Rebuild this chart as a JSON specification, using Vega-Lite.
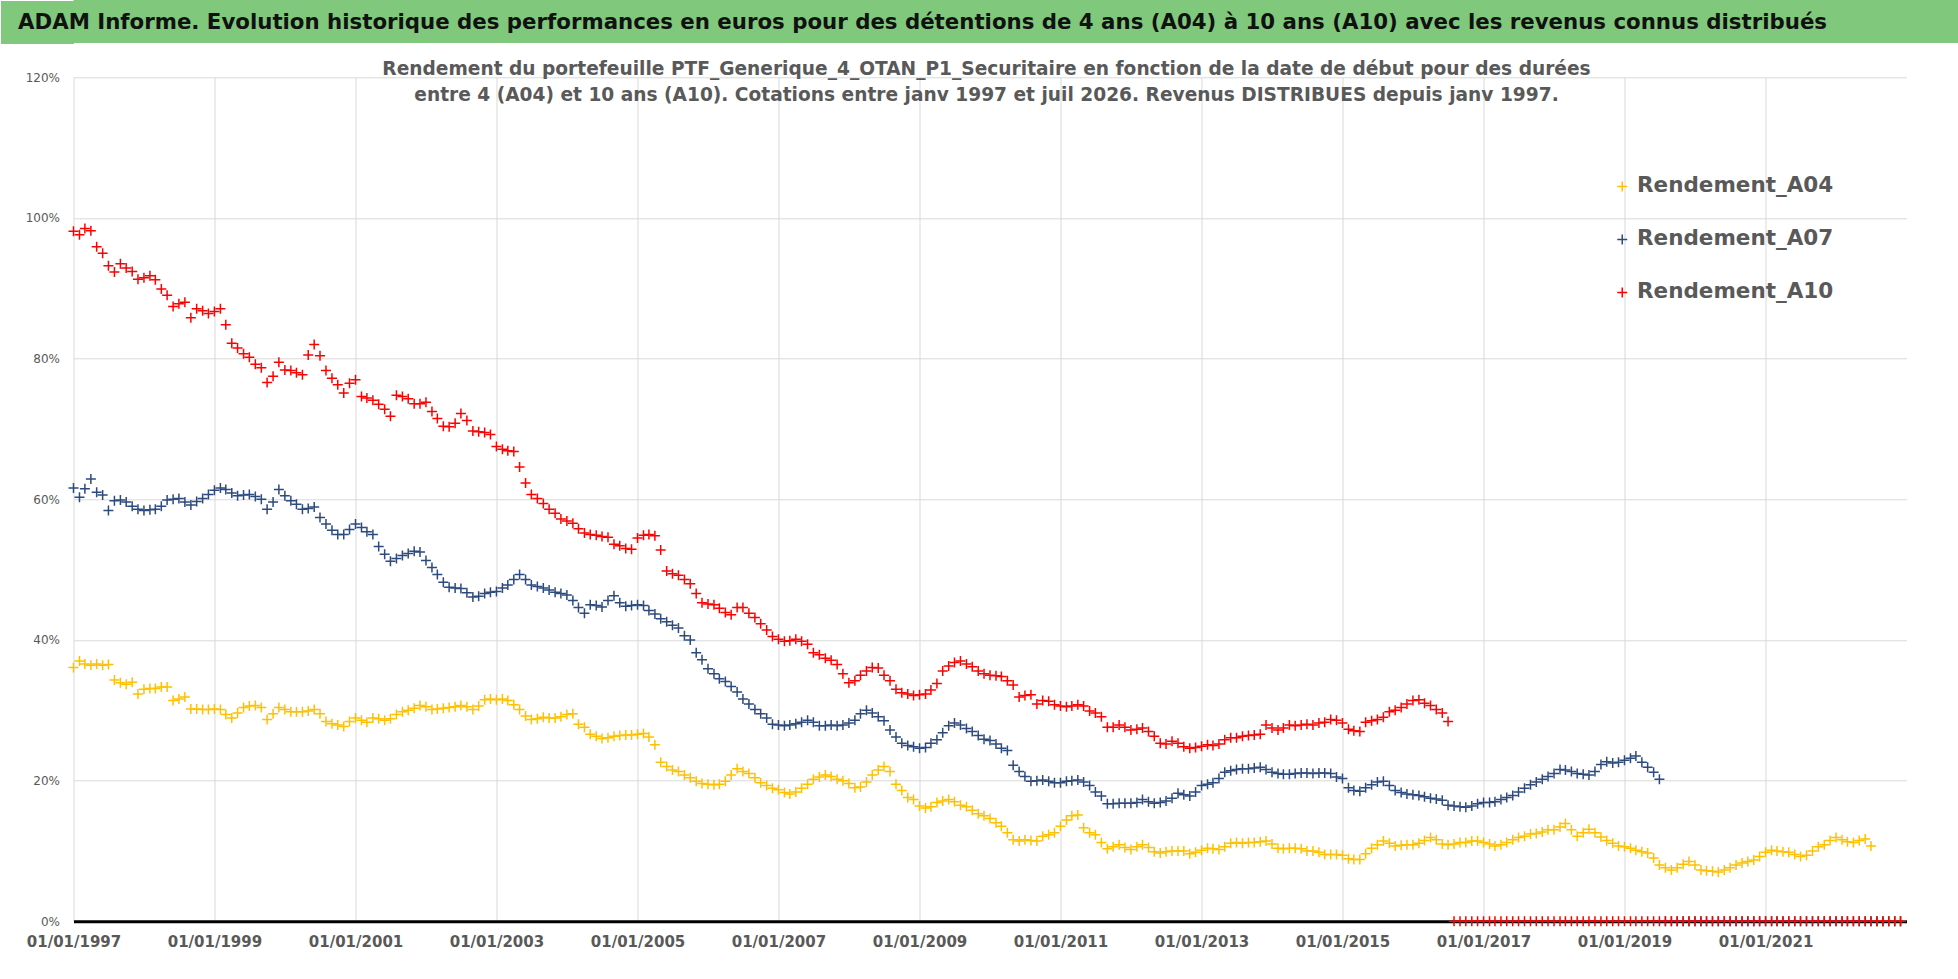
{
  "$schema": "https://vega.github.io/schema/vega-lite/v6.json",
  "description": "ADAM Informe - rendements A04, A07, A10 selon la date de debut",
  "padding": {"left": -21.5, "top": 0, "right": 0, "bottom": 0},
  "background": "white",
  "spacing": 15.3,
  "config": {"view": {"stroke": null}},
  "datasets": {
    "A04": [
      {"d":"1997-01","v":36.1},{"d":"1997-02","v":37.0},{"d":"1997-03","v":36.6},{"d":"1997-04","v":36.4},{"d":"1997-05","v":36.6},{"d":"1997-06","v":36.4},{"d":"1997-07","v":36.5},{"d":"1997-08","v":34.3},{"d":"1997-09","v":33.9},{"d":"1997-10","v":33.7},{"d":"1997-11","v":34.0},{"d":"1997-12","v":32.3},
      {"d":"1998-01","v":33.0},{"d":"1998-02","v":33.1},{"d":"1998-03","v":33.1},{"d":"1998-04","v":33.3},{"d":"1998-05","v":33.3},{"d":"1998-06","v":31.4},{"d":"1998-07","v":31.6},{"d":"1998-08","v":31.9},{"d":"1998-09","v":30.2},{"d":"1998-10","v":30.2},{"d":"1998-11","v":30.1},{"d":"1998-12","v":30.1},
      {"d":"1999-01","v":30.2},{"d":"1999-02","v":30.1},{"d":"1999-03","v":29.4},{"d":"1999-04","v":28.9},{"d":"1999-05","v":29.6},{"d":"1999-06","v":30.4},{"d":"1999-07","v":30.6},{"d":"1999-08","v":30.7},{"d":"1999-09","v":30.4},{"d":"1999-10","v":28.7},{"d":"1999-11","v":29.5},{"d":"1999-12","v":30.4},
      {"d":"2000-01","v":30.1},{"d":"2000-02","v":29.8},{"d":"2000-03","v":29.8},{"d":"2000-04","v":29.8},{"d":"2000-05","v":29.9},{"d":"2000-06","v":30.1},{"d":"2000-07","v":29.5},{"d":"2000-08","v":28.4},{"d":"2000-09","v":28.1},{"d":"2000-10","v":27.9},{"d":"2000-11","v":27.7},{"d":"2000-12","v":28.4},
      {"d":"2001-01","v":28.9},{"d":"2001-02","v":28.6},{"d":"2001-03","v":28.3},{"d":"2001-04","v":28.9},{"d":"2001-05","v":28.8},{"d":"2001-06","v":28.6},{"d":"2001-07","v":28.8},{"d":"2001-08","v":29.4},{"d":"2001-09","v":29.8},{"d":"2001-10","v":30.0},{"d":"2001-11","v":30.3},{"d":"2001-12","v":30.7},
      {"d":"2002-01","v":30.5},{"d":"2002-02","v":30.1},{"d":"2002-03","v":30.2},{"d":"2002-04","v":30.3},{"d":"2002-05","v":30.4},{"d":"2002-06","v":30.5},{"d":"2002-07","v":30.7},{"d":"2002-08","v":30.5},{"d":"2002-09","v":30.1},{"d":"2002-10","v":30.6},{"d":"2002-11","v":31.5},{"d":"2002-12","v":31.6},
      {"d":"2003-01","v":31.5},{"d":"2003-02","v":31.6},{"d":"2003-03","v":31.4},{"d":"2003-04","v":30.8},{"d":"2003-05","v":30.1},{"d":"2003-06","v":29.2},{"d":"2003-07","v":28.7},{"d":"2003-08","v":28.8},{"d":"2003-09","v":29.0},{"d":"2003-10","v":28.9},{"d":"2003-11","v":28.9},{"d":"2003-12","v":29.1},
      {"d":"2004-01","v":29.4},{"d":"2004-02","v":29.5},{"d":"2004-03","v":28.0},{"d":"2004-04","v":27.6},{"d":"2004-05","v":26.6},{"d":"2004-06","v":26.3},{"d":"2004-07","v":26.0},{"d":"2004-08","v":26.1},{"d":"2004-09","v":26.3},{"d":"2004-10","v":26.4},{"d":"2004-11","v":26.5},{"d":"2004-12","v":26.5},
      {"d":"2005-01","v":26.6},{"d":"2005-02","v":26.7},{"d":"2005-03","v":26.2},{"d":"2005-04","v":25.1},{"d":"2005-05","v":22.6},{"d":"2005-06","v":22.0},{"d":"2005-07","v":21.5},{"d":"2005-08","v":21.3},{"d":"2005-09","v":20.8},{"d":"2005-10","v":20.4},{"d":"2005-11","v":19.9},{"d":"2005-12","v":19.6},
      {"d":"2006-01","v":19.5},{"d":"2006-02","v":19.4},{"d":"2006-03","v":19.5},{"d":"2006-04","v":19.9},{"d":"2006-05","v":20.8},{"d":"2006-06","v":21.7},{"d":"2006-07","v":21.3},{"d":"2006-08","v":21.0},{"d":"2006-09","v":20.4},{"d":"2006-10","v":19.7},{"d":"2006-11","v":19.3},{"d":"2006-12","v":18.9},
      {"d":"2007-01","v":18.7},{"d":"2007-02","v":18.3},{"d":"2007-03","v":18.1},{"d":"2007-04","v":18.4},{"d":"2007-05","v":18.9},{"d":"2007-06","v":19.5},{"d":"2007-07","v":20.2},{"d":"2007-08","v":20.5},{"d":"2007-09","v":20.8},{"d":"2007-10","v":20.6},{"d":"2007-11","v":20.2},{"d":"2007-12","v":20.0},
      {"d":"2008-01","v":19.6},{"d":"2008-02","v":19.0},{"d":"2008-03","v":19.1},{"d":"2008-04","v":19.8},{"d":"2008-05","v":20.8},{"d":"2008-06","v":21.5},{"d":"2008-07","v":22.0},{"d":"2008-08","v":21.3},{"d":"2008-09","v":19.5},{"d":"2008-10","v":18.6},{"d":"2008-11","v":17.6},{"d":"2008-12","v":17.3},
      {"d":"2009-01","v":16.4},{"d":"2009-02","v":16.1},{"d":"2009-03","v":16.3},{"d":"2009-04","v":16.9},{"d":"2009-05","v":17.1},{"d":"2009-06","v":17.3},{"d":"2009-07","v":17.0},{"d":"2009-08","v":16.5},{"d":"2009-09","v":16.3},{"d":"2009-10","v":15.8},{"d":"2009-11","v":15.3},{"d":"2009-12","v":15.0},
      {"d":"2010-01","v":14.6},{"d":"2010-02","v":14.0},{"d":"2010-03","v":13.5},{"d":"2010-04","v":12.6},{"d":"2010-05","v":11.6},{"d":"2010-06","v":11.4},{"d":"2010-07","v":11.6},{"d":"2010-08","v":11.5},{"d":"2010-09","v":11.4},{"d":"2010-10","v":12.1},{"d":"2010-11","v":12.3},{"d":"2010-12","v":12.6},
      {"d":"2011-01","v":13.5},{"d":"2011-02","v":14.4},{"d":"2011-03","v":15.0},{"d":"2011-04","v":15.1},{"d":"2011-05","v":13.3},{"d":"2011-06","v":12.6},{"d":"2011-07","v":12.3},{"d":"2011-08","v":11.2},{"d":"2011-09","v":10.3},{"d":"2011-10","v":10.6},{"d":"2011-11","v":10.9},{"d":"2011-12","v":10.5},
      {"d":"2012-01","v":10.2},{"d":"2012-02","v":10.6},{"d":"2012-03","v":10.9},{"d":"2012-04","v":10.5},{"d":"2012-05","v":9.9},{"d":"2012-06","v":9.7},{"d":"2012-07","v":9.9},{"d":"2012-08","v":10.0},{"d":"2012-09","v":10.0},{"d":"2012-10","v":10.0},{"d":"2012-11","v":9.6},{"d":"2012-12","v":9.8},
      {"d":"2013-01","v":10.1},{"d":"2013-02","v":10.4},{"d":"2013-03","v":10.3},{"d":"2013-04","v":10.2},{"d":"2013-05","v":10.6},{"d":"2013-06","v":11.1},{"d":"2013-07","v":11.2},{"d":"2013-08","v":11.1},{"d":"2013-09","v":11.2},{"d":"2013-10","v":11.2},{"d":"2013-11","v":11.3},{"d":"2013-12","v":11.4},
      {"d":"2014-01","v":11.0},{"d":"2014-02","v":10.4},{"d":"2014-03","v":10.3},{"d":"2014-04","v":10.4},{"d":"2014-05","v":10.4},{"d":"2014-06","v":10.3},{"d":"2014-07","v":10.0},{"d":"2014-08","v":10.0},{"d":"2014-09","v":9.8},{"d":"2014-10","v":9.5},{"d":"2014-11","v":9.5},{"d":"2014-12","v":9.5},
      {"d":"2015-01","v":9.4},{"d":"2015-02","v":8.9},{"d":"2015-03","v":8.8},{"d":"2015-04","v":8.8},{"d":"2015-05","v":9.6},{"d":"2015-06","v":10.4},{"d":"2015-07","v":10.9},{"d":"2015-08","v":11.4},{"d":"2015-09","v":11.1},{"d":"2015-10","v":10.7},{"d":"2015-11","v":10.8},{"d":"2015-12","v":10.9},
      {"d":"2016-01","v":10.9},{"d":"2016-02","v":11.1},{"d":"2016-03","v":11.5},{"d":"2016-04","v":11.9},{"d":"2016-05","v":11.6},{"d":"2016-06","v":11.0},{"d":"2016-07","v":10.9},{"d":"2016-08","v":11.0},{"d":"2016-09","v":11.2},{"d":"2016-10","v":11.2},{"d":"2016-11","v":11.4},{"d":"2016-12","v":11.4},
      {"d":"2017-01","v":11.2},{"d":"2017-02","v":11.0},{"d":"2017-03","v":10.7},{"d":"2017-04","v":10.9},{"d":"2017-05","v":11.2},{"d":"2017-06","v":11.6},{"d":"2017-07","v":11.9},{"d":"2017-08","v":12.1},{"d":"2017-09","v":12.4},{"d":"2017-10","v":12.5},{"d":"2017-11","v":12.7},{"d":"2017-12","v":13.0},
      {"d":"2018-01","v":13.0},{"d":"2018-02","v":13.4},{"d":"2018-03","v":13.9},{"d":"2018-04","v":13.0},{"d":"2018-05","v":12.1},{"d":"2018-06","v":12.6},{"d":"2018-07","v":13.1},{"d":"2018-08","v":12.6},{"d":"2018-09","v":12.0},{"d":"2018-10","v":11.5},{"d":"2018-11","v":11.1},{"d":"2018-12","v":10.7},
      {"d":"2019-01","v":10.6},{"d":"2019-02","v":10.4},{"d":"2019-03","v":10.1},{"d":"2019-04","v":9.9},{"d":"2019-05","v":9.7},{"d":"2019-06","v":9.0},{"d":"2019-07","v":8.0},{"d":"2019-08","v":7.6},{"d":"2019-09","v":7.3},{"d":"2019-10","v":7.6},{"d":"2019-11","v":8.1},{"d":"2019-12","v":8.5},
      {"d":"2020-01","v":8.0},{"d":"2020-02","v":7.3},{"d":"2020-03","v":7.2},{"d":"2020-04","v":7.1},{"d":"2020-05","v":7.0},{"d":"2020-06","v":7.3},{"d":"2020-07","v":7.6},{"d":"2020-08","v":8.0},{"d":"2020-09","v":8.3},{"d":"2020-10","v":8.5},{"d":"2020-11","v":8.7},{"d":"2020-12","v":9.2},
      {"d":"2021-01","v":9.8},{"d":"2021-02","v":10.1},{"d":"2021-03","v":10.0},{"d":"2021-04","v":9.9},{"d":"2021-05","v":9.8},{"d":"2021-06","v":9.5},{"d":"2021-07","v":9.2},{"d":"2021-08","v":9.4},{"d":"2021-09","v":10.0},{"d":"2021-10","v":10.6},{"d":"2021-11","v":10.9},{"d":"2021-12","v":11.5},
      {"d":"2022-01","v":11.9},{"d":"2022-02","v":11.6},{"d":"2022-03","v":11.3},{"d":"2022-04","v":11.2},{"d":"2022-05","v":11.5},{"d":"2022-06","v":11.7},{"d":"2022-07","v":10.7},
      {"d":"2022-08","v":0},{"d":"2022-09","v":0},{"d":"2022-10","v":0},{"d":"2022-11","v":0},{"d":"2022-12","v":0}
    ],
    "A07": [
      {"d":"1997-01","v":61.6},{"d":"1997-02","v":60.3},{"d":"1997-03","v":61.5},{"d":"1997-04","v":62.9},{"d":"1997-05","v":61.0},{"d":"1997-06","v":60.6},{"d":"1997-07","v":58.4},{"d":"1997-08","v":59.8},{"d":"1997-09","v":59.9},{"d":"1997-10","v":59.6},{"d":"1997-11","v":59.0},{"d":"1997-12","v":58.6},
      {"d":"1998-01","v":58.4},{"d":"1998-02","v":58.5},{"d":"1998-03","v":58.6},{"d":"1998-04","v":59.0},{"d":"1998-05","v":59.9},{"d":"1998-06","v":60.0},{"d":"1998-07","v":60.1},{"d":"1998-08","v":59.6},{"d":"1998-09","v":59.2},{"d":"1998-10","v":59.7},{"d":"1998-11","v":60.1},{"d":"1998-12","v":60.7},
      {"d":"1999-01","v":61.3},{"d":"1999-02","v":61.6},{"d":"1999-03","v":61.4},{"d":"1999-04","v":60.9},{"d":"1999-05","v":60.5},{"d":"1999-06","v":60.6},{"d":"1999-07","v":60.7},{"d":"1999-08","v":60.4},{"d":"1999-09","v":60.0},{"d":"1999-10","v":58.6},{"d":"1999-11","v":59.6},{"d":"1999-12","v":61.4},
      {"d":"2000-01","v":60.5},{"d":"2000-02","v":59.8},{"d":"2000-03","v":59.3},{"d":"2000-04","v":58.6},{"d":"2000-05","v":58.7},{"d":"2000-06","v":58.9},{"d":"2000-07","v":57.4},{"d":"2000-08","v":56.5},{"d":"2000-09","v":55.6},{"d":"2000-10","v":55.0},{"d":"2000-11","v":55.0},{"d":"2000-12","v":55.7},
      {"d":"2001-01","v":56.5},{"d":"2001-02","v":56.0},{"d":"2001-03","v":55.4},{"d":"2001-04","v":55.0},{"d":"2001-05","v":53.3},{"d":"2001-06","v":52.2},{"d":"2001-07","v":51.2},{"d":"2001-08","v":51.6},{"d":"2001-09","v":52.0},{"d":"2001-10","v":52.3},{"d":"2001-11","v":52.6},{"d":"2001-12","v":52.5},
      {"d":"2002-01","v":51.3},{"d":"2002-02","v":50.3},{"d":"2002-03","v":49.3},{"d":"2002-04","v":48.2},{"d":"2002-05","v":47.5},{"d":"2002-06","v":47.4},{"d":"2002-07","v":47.3},{"d":"2002-08","v":46.7},{"d":"2002-09","v":46.1},{"d":"2002-10","v":46.2},{"d":"2002-11","v":46.6},{"d":"2002-12","v":46.8},
      {"d":"2003-01","v":46.9},{"d":"2003-02","v":47.4},{"d":"2003-03","v":47.8},{"d":"2003-04","v":48.6},{"d":"2003-05","v":49.3},{"d":"2003-06","v":48.6},{"d":"2003-07","v":47.8},{"d":"2003-08","v":47.6},{"d":"2003-09","v":47.4},{"d":"2003-10","v":47.1},{"d":"2003-11","v":46.8},{"d":"2003-12","v":46.6},
      {"d":"2004-01","v":46.4},{"d":"2004-02","v":45.6},{"d":"2004-03","v":44.6},{"d":"2004-04","v":43.8},{"d":"2004-05","v":45.0},{"d":"2004-06","v":44.9},{"d":"2004-07","v":44.7},{"d":"2004-08","v":45.6},{"d":"2004-09","v":46.3},{"d":"2004-10","v":45.3},{"d":"2004-11","v":44.8},{"d":"2004-12","v":44.9},
      {"d":"2005-01","v":45.0},{"d":"2005-02","v":44.9},{"d":"2005-03","v":44.2},{"d":"2005-04","v":43.7},{"d":"2005-05","v":43.0},{"d":"2005-06","v":42.6},{"d":"2005-07","v":42.1},{"d":"2005-08","v":41.7},{"d":"2005-09","v":40.6},{"d":"2005-10","v":40.0},{"d":"2005-11","v":38.2},{"d":"2005-12","v":37.2},
      {"d":"2006-01","v":35.9},{"d":"2006-02","v":35.2},{"d":"2006-03","v":34.5},{"d":"2006-04","v":34.1},{"d":"2006-05","v":33.4},{"d":"2006-06","v":32.6},{"d":"2006-07","v":31.6},{"d":"2006-08","v":30.9},{"d":"2006-09","v":30.1},{"d":"2006-10","v":29.5},{"d":"2006-11","v":28.9},{"d":"2006-12","v":28.0},
      {"d":"2007-01","v":27.9},{"d":"2007-02","v":27.8},{"d":"2007-03","v":27.9},{"d":"2007-04","v":28.1},{"d":"2007-05","v":28.3},{"d":"2007-06","v":28.6},{"d":"2007-07","v":28.3},{"d":"2007-08","v":27.8},{"d":"2007-09","v":27.8},{"d":"2007-10","v":27.9},{"d":"2007-11","v":27.8},{"d":"2007-12","v":27.9},
      {"d":"2008-01","v":28.2},{"d":"2008-02","v":28.6},{"d":"2008-03","v":29.5},{"d":"2008-04","v":30.0},{"d":"2008-05","v":29.6},{"d":"2008-06","v":29.1},{"d":"2008-07","v":28.5},{"d":"2008-08","v":27.2},{"d":"2008-09","v":26.2},{"d":"2008-10","v":25.3},{"d":"2008-11","v":25.0},{"d":"2008-12","v":24.8},
      {"d":"2009-01","v":24.6},{"d":"2009-02","v":24.7},{"d":"2009-03","v":25.3},{"d":"2009-04","v":25.8},{"d":"2009-05","v":26.8},{"d":"2009-06","v":27.8},{"d":"2009-07","v":28.2},{"d":"2009-08","v":27.9},{"d":"2009-09","v":27.4},{"d":"2009-10","v":27.0},{"d":"2009-11","v":26.4},{"d":"2009-12","v":25.9},
      {"d":"2010-01","v":25.7},{"d":"2010-02","v":25.2},{"d":"2010-03","v":24.6},{"d":"2010-04","v":24.3},{"d":"2010-05","v":22.2},{"d":"2010-06","v":21.3},{"d":"2010-07","v":20.6},{"d":"2010-08","v":19.9},{"d":"2010-09","v":20.0},{"d":"2010-10","v":20.1},{"d":"2010-11","v":19.9},{"d":"2010-12","v":19.7},
      {"d":"2011-01","v":19.7},{"d":"2011-02","v":19.9},{"d":"2011-03","v":20.0},{"d":"2011-04","v":20.1},{"d":"2011-05","v":19.8},{"d":"2011-06","v":19.3},{"d":"2011-07","v":18.4},{"d":"2011-08","v":17.8},{"d":"2011-09","v":16.7},{"d":"2011-10","v":16.7},{"d":"2011-11","v":16.8},{"d":"2011-12","v":16.8},
      {"d":"2012-01","v":16.8},{"d":"2012-02","v":16.9},{"d":"2012-03","v":17.3},{"d":"2012-04","v":17.0},{"d":"2012-05","v":16.8},{"d":"2012-06","v":16.9},{"d":"2012-07","v":17.1},{"d":"2012-08","v":17.5},{"d":"2012-09","v":18.2},{"d":"2012-10","v":18.0},{"d":"2012-11","v":17.8},{"d":"2012-12","v":18.4},
      {"d":"2013-01","v":19.3},{"d":"2013-02","v":19.5},{"d":"2013-03","v":19.7},{"d":"2013-04","v":20.3},{"d":"2013-05","v":21.2},{"d":"2013-06","v":21.4},{"d":"2013-07","v":21.6},{"d":"2013-08","v":21.7},{"d":"2013-09","v":21.7},{"d":"2013-10","v":21.8},{"d":"2013-11","v":21.9},{"d":"2013-12","v":21.6},
      {"d":"2014-01","v":21.2},{"d":"2014-02","v":21.0},{"d":"2014-03","v":20.9},{"d":"2014-04","v":20.9},{"d":"2014-05","v":21.0},{"d":"2014-06","v":21.1},{"d":"2014-07","v":21.1},{"d":"2014-08","v":21.0},{"d":"2014-09","v":21.1},{"d":"2014-10","v":21.1},{"d":"2014-11","v":21.0},{"d":"2014-12","v":20.5},
      {"d":"2015-01","v":20.3},{"d":"2015-02","v":19.0},{"d":"2015-03","v":18.6},{"d":"2015-04","v":18.5},{"d":"2015-05","v":19.0},{"d":"2015-06","v":19.4},{"d":"2015-07","v":19.8},{"d":"2015-08","v":19.9},{"d":"2015-09","v":19.3},{"d":"2015-10","v":18.6},{"d":"2015-11","v":18.3},{"d":"2015-12","v":18.1},
      {"d":"2016-01","v":18.0},{"d":"2016-02","v":17.9},{"d":"2016-03","v":17.7},{"d":"2016-04","v":17.5},{"d":"2016-05","v":17.4},{"d":"2016-06","v":17.2},{"d":"2016-07","v":16.5},{"d":"2016-08","v":16.4},{"d":"2016-09","v":16.3},{"d":"2016-10","v":16.2},{"d":"2016-11","v":16.4},{"d":"2016-12","v":16.7},
      {"d":"2017-01","v":16.9},{"d":"2017-02","v":16.9},{"d":"2017-03","v":17.0},{"d":"2017-04","v":17.3},{"d":"2017-05","v":17.6},{"d":"2017-06","v":17.9},{"d":"2017-07","v":18.4},{"d":"2017-08","v":18.9},{"d":"2017-09","v":19.4},{"d":"2017-10","v":19.8},{"d":"2017-11","v":20.2},{"d":"2017-12","v":20.6},
      {"d":"2018-01","v":21.0},{"d":"2018-02","v":21.6},{"d":"2018-03","v":21.5},{"d":"2018-04","v":21.3},{"d":"2018-05","v":21.0},{"d":"2018-06","v":20.9},{"d":"2018-07","v":20.8},{"d":"2018-08","v":21.3},{"d":"2018-09","v":22.3},{"d":"2018-10","v":22.7},{"d":"2018-11","v":22.5},{"d":"2018-12","v":22.6},
      {"d":"2019-01","v":22.9},{"d":"2019-02","v":23.2},{"d":"2019-03","v":23.5},{"d":"2019-04","v":22.6},{"d":"2019-05","v":21.9},{"d":"2019-06","v":21.2},{"d":"2019-07","v":20.2},
      {"d":"2019-08","v":0},{"d":"2019-09","v":0},{"d":"2019-10","v":0},{"d":"2019-11","v":0},{"d":"2019-12","v":0},
      {"d":"2020-01","v":0},{"d":"2020-02","v":0},{"d":"2020-03","v":0},{"d":"2020-04","v":0},{"d":"2020-05","v":0},{"d":"2020-06","v":0},{"d":"2020-07","v":0},{"d":"2020-08","v":0},{"d":"2020-09","v":0},{"d":"2020-10","v":0},{"d":"2020-11","v":0},{"d":"2020-12","v":0},
      {"d":"2021-01","v":0},{"d":"2021-02","v":0},{"d":"2021-03","v":0},{"d":"2021-04","v":0},{"d":"2021-05","v":0},{"d":"2021-06","v":0},{"d":"2021-07","v":0},{"d":"2021-08","v":0},{"d":"2021-09","v":0},{"d":"2021-10","v":0},{"d":"2021-11","v":0},{"d":"2021-12","v":0},
      {"d":"2022-01","v":0},{"d":"2022-02","v":0},{"d":"2022-03","v":0},{"d":"2022-04","v":0},{"d":"2022-05","v":0},{"d":"2022-06","v":0},{"d":"2022-07","v":0},{"d":"2022-08","v":0},{"d":"2022-09","v":0},{"d":"2022-10","v":0},{"d":"2022-11","v":0},{"d":"2022-12","v":0}
    ],
    "A10": [
      {"d":"1997-01","v":98.1},{"d":"1997-02","v":97.6},{"d":"1997-03","v":98.5},{"d":"1997-04","v":98.2},{"d":"1997-05","v":95.9},{"d":"1997-06","v":95.0},{"d":"1997-07","v":93.2},{"d":"1997-08","v":92.3},{"d":"1997-09","v":93.5},{"d":"1997-10","v":92.9},{"d":"1997-11","v":92.4},{"d":"1997-12","v":91.3},
      {"d":"1998-01","v":91.5},{"d":"1998-02","v":91.8},{"d":"1998-03","v":91.2},{"d":"1998-04","v":89.9},{"d":"1998-05","v":89.0},{"d":"1998-06","v":87.4},{"d":"1998-07","v":87.8},{"d":"1998-08","v":88.0},{"d":"1998-09","v":85.8},{"d":"1998-10","v":87.1},{"d":"1998-11","v":86.8},{"d":"1998-12","v":86.4},
      {"d":"1999-01","v":86.7},{"d":"1999-02","v":87.1},{"d":"1999-03","v":84.8},{"d":"1999-04","v":82.2},{"d":"1999-05","v":81.5},{"d":"1999-06","v":80.7},{"d":"1999-07","v":80.2},{"d":"1999-08","v":79.2},{"d":"1999-09","v":78.7},{"d":"1999-10","v":76.6},{"d":"1999-11","v":77.5},{"d":"1999-12","v":79.5},
      {"d":"2000-01","v":78.4},{"d":"2000-02","v":78.3},{"d":"2000-03","v":78.0},{"d":"2000-04","v":77.7},{"d":"2000-05","v":80.5},{"d":"2000-06","v":82.0},{"d":"2000-07","v":80.4},{"d":"2000-08","v":78.3},{"d":"2000-09","v":77.2},{"d":"2000-10","v":76.3},{"d":"2000-11","v":75.1},{"d":"2000-12","v":76.5},
      {"d":"2001-01","v":77.0},{"d":"2001-02","v":74.6},{"d":"2001-03","v":74.4},{"d":"2001-04","v":74.1},{"d":"2001-05","v":73.5},{"d":"2001-06","v":72.8},{"d":"2001-07","v":71.8},{"d":"2001-08","v":74.8},{"d":"2001-09","v":74.6},{"d":"2001-10","v":74.3},{"d":"2001-11","v":73.6},{"d":"2001-12","v":73.6},
      {"d":"2002-01","v":73.8},{"d":"2002-02","v":72.5},{"d":"2002-03","v":71.5},{"d":"2002-04","v":70.4},{"d":"2002-05","v":70.3},{"d":"2002-06","v":70.8},{"d":"2002-07","v":72.2},{"d":"2002-08","v":71.2},{"d":"2002-09","v":69.7},{"d":"2002-10","v":69.6},{"d":"2002-11","v":69.5},{"d":"2002-12","v":69.2},
      {"d":"2003-01","v":67.5},{"d":"2003-02","v":67.1},{"d":"2003-03","v":66.9},{"d":"2003-04","v":66.8},{"d":"2003-05","v":64.6},{"d":"2003-06","v":62.3},{"d":"2003-07","v":60.7},{"d":"2003-08","v":60.1},{"d":"2003-09","v":59.4},{"d":"2003-10","v":58.6},{"d":"2003-11","v":58.0},{"d":"2003-12","v":57.2},
      {"d":"2004-01","v":56.9},{"d":"2004-02","v":56.6},{"d":"2004-03","v":55.8},{"d":"2004-04","v":55.2},{"d":"2004-05","v":55.0},{"d":"2004-06","v":54.9},{"d":"2004-07","v":54.7},{"d":"2004-08","v":54.6},{"d":"2004-09","v":53.6},{"d":"2004-10","v":53.4},{"d":"2004-11","v":53.0},{"d":"2004-12","v":52.9},
      {"d":"2005-01","v":54.5},{"d":"2005-02","v":54.9},{"d":"2005-03","v":55.0},{"d":"2005-04","v":54.8},{"d":"2005-05","v":52.8},{"d":"2005-06","v":49.8},{"d":"2005-07","v":49.4},{"d":"2005-08","v":49.2},{"d":"2005-09","v":48.6},{"d":"2005-10","v":48.0},{"d":"2005-11","v":46.6},{"d":"2005-12","v":45.3},
      {"d":"2006-01","v":45.1},{"d":"2006-02","v":45.0},{"d":"2006-03","v":44.5},{"d":"2006-04","v":43.9},{"d":"2006-05","v":43.6},{"d":"2006-06","v":44.6},{"d":"2006-07","v":44.6},{"d":"2006-08","v":43.8},{"d":"2006-09","v":43.2},{"d":"2006-10","v":42.3},{"d":"2006-11","v":41.4},{"d":"2006-12","v":40.5},
      {"d":"2007-01","v":40.1},{"d":"2007-02","v":39.8},{"d":"2007-03","v":39.9},{"d":"2007-04","v":40.1},{"d":"2007-05","v":39.8},{"d":"2007-06","v":39.4},{"d":"2007-07","v":38.2},{"d":"2007-08","v":37.9},{"d":"2007-09","v":37.4},{"d":"2007-10","v":37.1},{"d":"2007-11","v":36.5},{"d":"2007-12","v":35.2},
      {"d":"2008-01","v":33.9},{"d":"2008-02","v":34.2},{"d":"2008-03","v":35.0},{"d":"2008-04","v":35.6},{"d":"2008-05","v":36.1},{"d":"2008-06","v":36.0},{"d":"2008-07","v":35.0},{"d":"2008-08","v":34.2},{"d":"2008-09","v":33.0},{"d":"2008-10","v":32.5},{"d":"2008-11","v":32.3},{"d":"2008-12","v":32.1},
      {"d":"2009-01","v":32.2},{"d":"2009-02","v":32.3},{"d":"2009-03","v":32.9},{"d":"2009-04","v":33.8},{"d":"2009-05","v":35.6},{"d":"2009-06","v":36.3},{"d":"2009-07","v":36.8},{"d":"2009-08","v":37.0},{"d":"2009-09","v":36.6},{"d":"2009-10","v":36.2},{"d":"2009-11","v":35.6},{"d":"2009-12","v":35.2},
      {"d":"2010-01","v":35.0},{"d":"2010-02","v":34.9},{"d":"2010-03","v":34.8},{"d":"2010-04","v":34.2},{"d":"2010-05","v":33.6},{"d":"2010-06","v":31.9},{"d":"2010-07","v":32.1},{"d":"2010-08","v":32.2},{"d":"2010-09","v":30.9},{"d":"2010-10","v":31.4},{"d":"2010-11","v":31.3},{"d":"2010-12","v":30.8},
      {"d":"2011-01","v":30.6},{"d":"2011-02","v":30.5},{"d":"2011-03","v":30.6},{"d":"2011-04","v":30.8},{"d":"2011-05","v":30.6},{"d":"2011-06","v":29.9},{"d":"2011-07","v":29.6},{"d":"2011-08","v":29.1},{"d":"2011-09","v":27.6},{"d":"2011-10","v":27.6},{"d":"2011-11","v":27.9},{"d":"2011-12","v":27.6},
      {"d":"2012-01","v":27.2},{"d":"2012-02","v":27.3},{"d":"2012-03","v":27.5},{"d":"2012-04","v":27.0},{"d":"2012-05","v":26.3},{"d":"2012-06","v":25.3},{"d":"2012-07","v":25.2},{"d":"2012-08","v":25.6},{"d":"2012-09","v":25.3},{"d":"2012-10","v":24.8},{"d":"2012-11","v":24.6},{"d":"2012-12","v":24.7},
      {"d":"2013-01","v":24.9},{"d":"2013-02","v":25.1},{"d":"2013-03","v":25.0},{"d":"2013-04","v":25.2},{"d":"2013-05","v":25.8},{"d":"2013-06","v":26.1},{"d":"2013-07","v":26.1},{"d":"2013-08","v":26.3},{"d":"2013-09","v":26.4},{"d":"2013-10","v":26.5},{"d":"2013-11","v":26.6},{"d":"2013-12","v":27.9},
      {"d":"2014-01","v":27.5},{"d":"2014-02","v":27.2},{"d":"2014-03","v":27.5},{"d":"2014-04","v":27.9},{"d":"2014-05","v":27.8},{"d":"2014-06","v":27.9},{"d":"2014-07","v":28.0},{"d":"2014-08","v":27.9},{"d":"2014-09","v":28.2},{"d":"2014-10","v":28.3},{"d":"2014-11","v":28.7},{"d":"2014-12","v":28.6},
      {"d":"2015-01","v":28.2},{"d":"2015-02","v":27.3},{"d":"2015-03","v":27.1},{"d":"2015-04","v":27.0},{"d":"2015-05","v":28.3},{"d":"2015-06","v":28.5},{"d":"2015-07","v":28.7},{"d":"2015-08","v":29.0},{"d":"2015-09","v":29.8},{"d":"2015-10","v":30.0},{"d":"2015-11","v":30.4},{"d":"2015-12","v":30.9},
      {"d":"2016-01","v":31.4},{"d":"2016-02","v":31.5},{"d":"2016-03","v":31.0},{"d":"2016-04","v":30.7},{"d":"2016-05","v":30.1},{"d":"2016-06","v":29.6},{"d":"2016-07","v":28.4},
      {"d":"2016-08","v":0},{"d":"2016-09","v":0},{"d":"2016-10","v":0},{"d":"2016-11","v":0},{"d":"2016-12","v":0},
      {"d":"2017-01","v":0},{"d":"2017-02","v":0},{"d":"2017-03","v":0},{"d":"2017-04","v":0},{"d":"2017-05","v":0},{"d":"2017-06","v":0},{"d":"2017-07","v":0},{"d":"2017-08","v":0},{"d":"2017-09","v":0},{"d":"2017-10","v":0},{"d":"2017-11","v":0},{"d":"2017-12","v":0},
      {"d":"2018-01","v":0},{"d":"2018-02","v":0},{"d":"2018-03","v":0},{"d":"2018-04","v":0},{"d":"2018-05","v":0},{"d":"2018-06","v":0},{"d":"2018-07","v":0},{"d":"2018-08","v":0},{"d":"2018-09","v":0},{"d":"2018-10","v":0},{"d":"2018-11","v":0},{"d":"2018-12","v":0},
      {"d":"2019-01","v":0},{"d":"2019-02","v":0},{"d":"2019-03","v":0},{"d":"2019-04","v":0},{"d":"2019-05","v":0},{"d":"2019-06","v":0},{"d":"2019-07","v":0},{"d":"2019-08","v":0},{"d":"2019-09","v":0},{"d":"2019-10","v":0},{"d":"2019-11","v":0},{"d":"2019-12","v":0},
      {"d":"2020-01","v":0},{"d":"2020-02","v":0},{"d":"2020-03","v":0},{"d":"2020-04","v":0},{"d":"2020-05","v":0},{"d":"2020-06","v":0},{"d":"2020-07","v":0},{"d":"2020-08","v":0},{"d":"2020-09","v":0},{"d":"2020-10","v":0},{"d":"2020-11","v":0},{"d":"2020-12","v":0},
      {"d":"2021-01","v":0},{"d":"2021-02","v":0},{"d":"2021-03","v":0},{"d":"2021-04","v":0},{"d":"2021-05","v":0},{"d":"2021-06","v":0},{"d":"2021-07","v":0},{"d":"2021-08","v":0},{"d":"2021-09","v":0},{"d":"2021-10","v":0},{"d":"2021-11","v":0},{"d":"2021-12","v":0},
      {"d":"2022-01","v":0},{"d":"2022-02","v":0},{"d":"2022-03","v":0},{"d":"2022-04","v":0},{"d":"2022-05","v":0},{"d":"2022-06","v":0},{"d":"2022-07","v":0},{"d":"2022-08","v":0},{"d":"2022-09","v":0},{"d":"2022-10","v":0},{"d":"2022-11","v":0},{"d":"2022-12","v":0}
    ]
  },
  "vconcat": [
    {
      "width": 1885,
      "height": 43,
      "view": {"fill": "#80c87c", "stroke": null},
      "data": {"values": [{"t": "ADAM Informe. Evolution historique des performances en euros pour des détentions de 4 ans (A04) à 10 ans (A10) avec les revenus connus distribués", "k": "banner"}]},
      "mark": {"type": "text", "font": "DejaVu Sans", "fontWeight": "bold", "fontSize": 21.3, "color": "#111111", "dx": -93.5, "dy": 1.5},
      "encoding": {
        "text": {"field": "t", "type": "nominal"},
        "y": {
          "field": "k",
          "type": "nominal",
          "axis": {
            "title": null,
            "labels": false,
            "domain": false,
            "grid": false,
            "ticks": true,
            "tickSize": 73,
            "tickWidth": 43,
            "tickCap": "butt",
            "tickColor": "#80c87c",
            "minExtent": 0,
            "maxExtent": 73
          }
        }
      }
    },
    {
      "width": 1833,
      "height": 844,
      "title": {
        "text": ["Rendement du portefeuille PTF_Generique_4_OTAN_P1_Securitaire  en fonction de la date de début pour des durées", "entre 4 (A04) et 10 ans (A10). Cotations entre janv 1997 et juil 2026. Revenus DISTRIBUES depuis janv 1997."],
        "anchor": "middle",
        "frame": "group",
        "dx": -3.5,
        "font": "DejaVu Sans",
        "fontSize": 18.6,
        "fontWeight": "bold",
        "color": "#595959",
        "lineHeight": 26.7,
        "baseline": "top",
        "offset": -33.6
      },
      "encoding": {
        "x": {
          "field": "d",
          "type": "temporal",
          "scale": {"type": "utc", "domain": [{"year": 1997, "month": 1, "date": 1, "utc": true}, {"year": 2023, "month": 1, "date": 1, "utc": true}]},
          "axis": {
            "title": null,
            "values": [
              {"year": 1997, "month": 1, "date": 1, "utc": true}, {"year": 1999, "month": 1, "date": 1, "utc": true},
              {"year": 2001, "month": 1, "date": 1, "utc": true}, {"year": 2003, "month": 1, "date": 1, "utc": true},
              {"year": 2005, "month": 1, "date": 1, "utc": true}, {"year": 2007, "month": 1, "date": 1, "utc": true},
              {"year": 2009, "month": 1, "date": 1, "utc": true}, {"year": 2011, "month": 1, "date": 1, "utc": true},
              {"year": 2013, "month": 1, "date": 1, "utc": true}, {"year": 2015, "month": 1, "date": 1, "utc": true},
              {"year": 2017, "month": 1, "date": 1, "utc": true}, {"year": 2019, "month": 1, "date": 1, "utc": true},
              {"year": 2021, "month": 1, "date": 1, "utc": true}
            ],
            "format": "%d/%m/%Y",
            "labelFont": "DejaVu Sans",
            "labelFontWeight": "bold",
            "labelFontSize": 15,
            "labelColor": "#595959",
            "labelPadding": 13,
            "labelOverlap": false,
            "labelFlush": false,
            "ticks": false,
            "domainColor": "#000000",
            "domainWidth": 3,
            "grid": true,
            "gridColor": "#d9d9d9",
            "gridWidth": 1
          }
        },
        "y": {
          "field": "v",
          "type": "quantitative",
          "scale": {"domain": [0, 120], "nice": false},
          "axis": {
            "title": null,
            "values": [0, 20, 40, 60, 80, 100, 120],
            "labelExpr": "datum.value + '%'",
            "labelFont": "DejaVu Sans",
            "labelFontSize": 12,
            "labelColor": "#595959",
            "labelPadding": 14,
            "ticks": false,
            "domain": false,
            "grid": true,
            "gridColor": "#d9d9d9",
            "gridWidth": 1,
            "minExtent": 73,
            "maxExtent": 73
          }
        }
      },
      "layer": [
        {
          "data": {"name": "A04"},
          "mark": {"type": "point", "shape": "M-1,0H1M0,-1V1", "filled": false, "size": 100, "strokeWidth": 1.5, "opacity": 1},
          "encoding": {
            "color": {
              "datum": "Rendement_A04",
              "type": "nominal",
              "scale": {"domain": ["Rendement_A04", "Rendement_A07", "Rendement_A10"], "range": ["#FFC000", "#2c4a7e", "#FF0000"]},
              "legend": {
                "title": null,
                "orient": "none",
                "legendX": 1538,
                "legendY": 175.7,
                "padding": 0,
                "symbolType": "M-1,0H1M0,-1V1",
                "symbolSize": 100,
                "symbolStrokeWidth": 1.5,
                "labelFont": "DejaVu Sans",
                "labelFontWeight": "bold",
                "labelFontSize": 21.5,
                "labelColor": "#595959",
                "labelOffset": 4,
                "labelLimit": 400,
                "rowPadding": 30
              }
            }
          }
        },
        {
          "data": {"name": "A07"},
          "mark": {"type": "point", "shape": "M-1,0H1M0,-1V1", "filled": false, "size": 100, "strokeWidth": 1.5, "opacity": 1},
          "encoding": {"color": {"datum": "Rendement_A07", "type": "nominal"}}
        },
        {
          "data": {"name": "A10"},
          "mark": {"type": "point", "shape": "M-1,0H1M0,-1V1", "filled": false, "size": 100, "strokeWidth": 1.5, "opacity": 1},
          "encoding": {"color": {"datum": "Rendement_A10", "type": "nominal"}}
        }
      ]
    }
  ]
}
